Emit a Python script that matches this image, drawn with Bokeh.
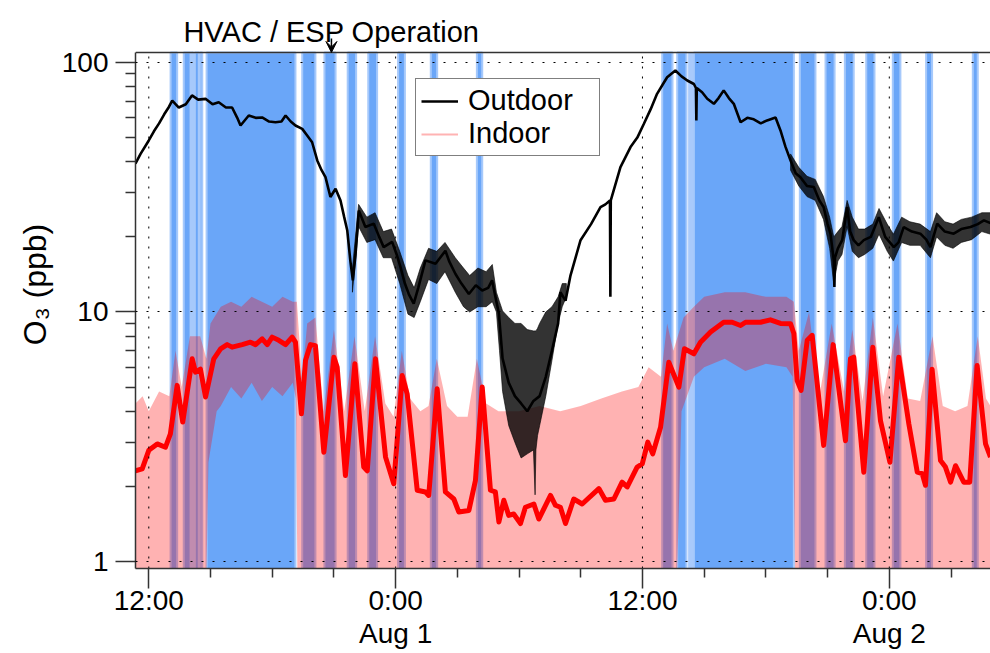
from bokeh.plotting import figure
from bokeh.models import (Range1d, FixedTicker, Arrow, VeeHead, Span, Legend, LegendItem,
                          LinearAxis)
from bokeh.core.properties import value
from bokeh.embed import file_html
from bokeh.resources import INLINE

# ---------------- data (time in hours since Jul 31 00:00) ----------------
hvac_start = [13.06, 13.70, 14.07, 14.24, 14.48, 14.81, 19.46, 20.54, 21.67, 22.67, 24.12, 25.71, 27.95,
              36.96, 37.69, 38.50, 43.65, 44.90, 45.84, 46.88, 48.17, 49.79, 52.06]
hvac_end = [13.38, 14.03, 14.16, 14.43, 14.60, 19.13, 20.10, 21.08, 22.08, 23.10, 24.45, 26.02, 28.21,
            37.46, 38.14, 43.36, 44.41, 45.34, 46.27, 47.28, 48.54, 50.08, 52.30]
hvac_part_start = [38.22]
hvac_part_end = [38.48]

out_t = [11.35, 11.6, 12.0, 12.25, 12.5, 12.75, 12.97, 13.14, 13.46, 13.8, 14.1, 14.4, 14.76, 15.1, 15.4,
         15.75, 16.05, 16.3, 16.46, 16.86, 17.2, 17.51, 17.85, 18.16, 18.45, 18.65, 18.9, 19.13, 19.46,
         19.7, 19.94, 20.19, 20.4, 20.59, 20.83, 21.08, 21.32, 21.5, 21.65, 21.8, 21.92, 22.05, 22.21,
         22.53, 22.94, 23.2, 23.42, 23.83, 24.05, 24.24, 24.45, 24.64, 24.88, 25.1, 25.45, 25.94, 26.42,
         26.6, 26.91, 27.2, 27.56, 27.9, 28.21, 28.5, 28.69, 28.9, 29.02, 29.2, 29.5, 29.8, 30.1, 30.4,
         30.7, 31.0, 31.3, 31.6, 31.9, 32.01, 32.26, 32.5, 32.99, 33.5, 33.96, 34.2, 34.42, 34.44, 34.46,
         34.93, 35.42, 35.75, 36.07, 36.4, 36.71, 37.0, 37.2, 37.6, 37.9, 38.18, 38.5, 38.6, 38.62,
         38.64, 38.9, 39.15, 39.47, 39.7, 39.95, 40.2, 40.44, 40.77, 41.1, 41.41, 41.75, 42.06, 42.47,
         42.71, 42.95, 43.2, 43.45, 43.68, 44.0, 44.33, 44.6, 44.81, 45.0, 45.14, 45.3, 45.33, 45.36,
         45.5, 45.71, 45.95, 46.1, 46.27, 46.5, 46.76, 47.1, 47.49, 47.8, 48.22, 48.45, 48.7, 49.1,
         49.51, 49.8, 50.0, 50.33, 50.7, 51.13, 51.5, 51.95, 52.3, 52.6, 52.92]
out_v = [39.3, 43, 48.7, 53, 57, 62, 66.2, 70.4, 66, 68, 73.8, 71, 71.5, 68, 69.3,
         66, 66, 60, 55.9, 61.3, 60, 60.2, 58, 57.6, 58, 61.3, 58, 55.9, 54.2,
         51, 47.9, 40.5, 37, 34.7, 28.9, 31.2, 28, 24, 21.2, 16, 13.4, 17, 25.5,
         21.9, 22.6, 20, 18.2, 19.1, 17, 15.1, 13, 11.8, 10.8, 12.5, 16.1, 15.6, 17.6,
         16, 14.2, 13, 11.8, 12.8, 12.2, 12.5, 13.4, 11, 9.86, 6.5, 5.2, 4.6, 4.3, 4.0,
         4.4, 4.6, 5.5, 7.0, 9.0, 12, 11.1, 14, 19.4, 22.5, 26.3, 27, 28, 11.5, 28,
         38.1, 45.8, 50, 56.8, 65, 74.9, 82, 87.3, 92.9, 88, 84.7, 82, 79, 58.6,
         79, 76, 71.6, 68.3, 72, 77.3, 72, 68.3, 57.6, 60, 59.2, 57, 58.6, 60.2,
         53.4, 46, 40.5, 36, 34.7, 32, 31.7, 28, 26.3, 22.5, 20.6, 16.1, 12.6, 16.5,
         18, 19.4, 26.3, 21, 19.4, 18.5, 19.4, 20, 24, 20, 18.2, 19, 21.9, 21,
         20.6, 19.5, 18.2, 22.6, 21, 20.6, 21.5, 21.9, 22.5, 23.3, 22.7]

# spread (min / max) of the noisy outdoor trace, night of Jul 31 -> Aug 1
out_sp1_t = [21.9, 22.2, 22.6, 23.0, 23.4, 23.8, 24.2, 24.6, 24.9, 25.2, 25.6, 26.0, 26.4, 26.9,
             27.3, 27.6, 28.0, 28.4, 28.7, 28.9, 29.05, 29.2, 29.5, 29.8, 30.1, 30.4, 30.7, 30.78,
             30.82, 30.9, 31.0, 31.3, 31.6, 31.9, 32.1, 32.3]
out_sp1_hi = [15, 27, 24, 25, 21, 21.5, 17.5, 14, 12.5, 15, 18, 17.5, 19, 16.5,
              15, 14, 15, 14.5, 15.5, 12, 11, 10.1, 9.5, 9.0, 9.0, 8.5, 8.4, 8.4,
              8.4, 8.6, 9.0, 10.0, 10.5, 11.5, 13, 13]
out_sp1_lo = [12, 22, 19, 19.5, 16.5, 16.5, 13, 9.8, 9.5, 11, 13.5, 13, 14.5, 12,
              10.5, 10, 10.5, 10.5, 11, 10, 7.0, 4.8, 3.5, 3.0, 2.6, 2.7, 2.8, 1.85,
              2.8, 3.2, 3.5, 4.6, 6.4, 9.0, 10.5, 11.5]
# spread of the outdoor trace, evening Aug 1 -> Aug 2
out_sp2_t = [43.2, 43.6, 44.0, 44.4, 44.8, 45.1, 45.3, 45.5, 45.7, 45.95, 46.2, 46.5, 46.8, 47.2,
             47.5, 47.9, 48.2, 48.6, 49.0, 49.5, 50.0, 50.3, 50.7, 51.1, 51.5, 52.0, 52.5, 52.92]
out_sp2_hi = [43, 38, 35, 34, 29, 24, 20, 21, 22, 28, 24, 21.5, 21.5, 22.5,
              26, 22.5, 20.5, 24, 23, 22.5, 21, 25, 23, 22.5, 23.5, 24, 25, 25]
out_sp2_lo = [37, 32, 29, 28, 23.5, 18, 13, 16, 17, 22, 17.5, 16.5, 17, 18,
              20.5, 17.5, 16, 19, 18.5, 18.5, 16.5, 20, 18.5, 18, 19, 19.5, 21, 20.5]

ind_t = [11.35, 11.68, 12.0, 12.41, 12.81, 13.05, 13.38, 13.65, 14.11, 14.27, 14.51, 14.76, 15.16, 15.49,
         15.81, 16.05, 16.54, 16.94, 17.19, 17.51, 17.76, 18.0, 18.32, 18.65, 18.97, 19.13, 19.42, 19.62,
         19.86, 20.1, 20.51, 21.0, 21.16, 21.56, 22.02, 22.45, 22.62, 23.02, 23.51, 23.91, 24.32, 24.56,
         25.05, 25.45, 25.61, 26.02, 26.42, 26.83, 27.07, 27.56, 27.88, 28.21, 28.61, 28.85, 29.02, 29.26,
         29.5, 29.74, 30.07, 30.31, 30.72, 30.96, 31.53, 31.77, 32.01, 32.26, 32.66, 33.07, 33.88, 34.2,
         34.61, 35.01, 35.26, 35.74, 35.99, 36.26, 36.5, 36.88, 37.28, 37.77, 38.04, 38.5, 38.82, 39.31,
         39.95, 40.36, 40.77, 41.01, 41.74, 42.22, 42.71, 43.2, 43.36, 43.52, 43.71, 44.01, 44.25, 44.81,
         45.27, 45.87, 46.11, 46.27, 46.76, 47.2, 47.57, 48.03, 48.46, 48.95, 49.36, 49.6, 49.76, 50.08,
         50.49, 50.73, 50.98, 51.22, 51.62, 51.91, 52.27, 52.68, 52.92]
ind_v = [2.31, 2.35, 2.79, 2.96, 2.87, 3.25, 5.08, 3.62, 6.49, 5.74, 5.9, 4.56, 6.49, 7.12,
         7.4, 7.23, 7.4, 7.57, 7.4, 7.81, 7.4, 7.93, 7.7, 7.4, 7.93, 7.57, 3.91, 6.4,
         7.4, 7.33, 2.74, 6.59, 6.0, 2.21, 6.2, 2.39, 2.31, 6.49, 2.62, 2.05, 5.56, 4.7,
         1.93, 1.9, 1.84, 4.92, 1.9, 1.78, 1.58, 1.6, 2.11, 5.0, 1.93, 1.9, 1.44, 1.76,
         1.53, 1.55, 1.42, 1.65, 1.70, 1.48, 1.84, 1.68, 1.65, 1.42, 1.78, 1.70, 1.96, 1.76,
         1.78, 2.08, 1.99, 2.39, 2.46, 3.01, 2.70, 3.45, 6.29, 5.0, 7.12, 6.8, 7.57, 8.31,
         9.1, 9.1, 8.83, 9.1, 9.1, 9.3, 9.0, 8.97, 8.2, 5.31, 4.85, 7.7, 8.06, 2.92,
         7.4, 3.05, 6.49, 6.59, 2.28, 7.23, 3.67, 2.50, 6.59, 3.56, 2.28, 2.25, 2.02, 5.9,
         2.54, 2.39, 2.08, 2.42, 2.08, 2.08, 6.1, 2.96, 2.62]

# spread of the raw (noisy) indoor trace
ind_hi_t = [11.35, 11.7, 12.0, 12.5, 13.0, 13.3, 13.6, 14.0, 14.5, 14.8, 15.0, 15.5, 16.0, 16.5, 17.0,
            17.5, 18.0, 18.5, 19.0, 19.2, 19.45, 19.7, 20.1, 20.5, 21.0, 21.5, 22.0, 22.5, 23.0, 23.5,
            23.9, 24.3, 24.7, 25.2, 25.6, 26.0, 26.5, 27.0, 27.5, 27.95, 28.4, 29.0, 30.0, 31.0, 32.0,
            33.0, 34.0, 35.0, 35.8, 36.3, 36.9, 37.2, 37.5, 38.0, 38.5, 39.0, 40.0, 41.0, 42.0, 43.0,
            43.36, 43.6, 44.1, 44.6, 45.2, 45.8, 46.2, 46.7, 47.2, 47.7, 48.4, 48.9, 49.5, 50.1, 50.6,
            51.2, 51.8, 52.3, 52.7, 52.92]
ind_hi_v = [4.3, 4.6, 4.0, 4.8, 4.6, 7.0, 5.0, 8.0, 8.0, 6.5, 9.0, 10.5, 11.0, 10.5, 11.5,
            11.0, 10.5, 11.5, 11.0, 11.0, 5.3, 9.0, 9.5, 4.0, 8.5, 4.0, 8.0, 4.0, 8.0, 4.3,
            3.8, 7.0, 4.5, 4.0, 4.2, 6.5, 4.2, 3.8, 3.8, 6.5, 4.3, 4.0, 4.0, 4.2, 4.0,
            4.2, 4.5, 4.8, 5.0, 6.0, 5.5, 9.0, 7.0, 9.5, 10.5, 11.5, 12.0, 12.0, 11.5, 11.5,
            11.0, 7.0, 10.0, 4.6, 9.0, 4.8, 8.5, 4.4, 9.5, 4.6, 9.0, 4.5, 4.4, 8.0, 4.2,
            4.0, 4.2, 8.0, 4.5, 4.2]
ind_lo_t = [11.35, 14.75, 14.9, 15.3, 15.5, 16.0, 16.5, 17.0, 17.5, 18.0, 18.5, 19.0, 19.15, 19.25,
            37.6, 37.9, 38.5, 39.0, 40.0, 41.0, 42.0, 43.0, 43.3, 43.45, 52.92]
ind_lo_v = [0.5, 0.5, 2.5, 4.0, 4.2, 5.0, 4.5, 5.2, 4.4, 5.0, 4.6, 5.2, 4.5, 0.5,
            0.5, 4.0, 5.5, 6.0, 6.5, 5.8, 6.2, 6.0, 5.5, 0.5, 0.5]

x_ticks = [12, 24, 36, 48]
x_tick_labels = ["12:00", "0:00", "12:00", "0:00"]
x_minor = [15, 18, 21, 27, 30, 33, 39, 42, 45, 51]
date_ticks = [24, 48]
date_labels = ["Aug 1", "Aug 2"]
y_ticks = [1, 10, 100]
y_tick_labels = ["1", "10", "100"]
y_minor = [2, 3, 4, 5, 6, 7, 8, 9, 20, 30, 40, 50, 60, 70, 80, 90]
annot_t = 20.88
annot_text = "HVAC / ESP Operation"

# ---------------- styling ----------------
FONT = "Liberation Sans"
BLUE = "#6aa6f8"
BLUE_EDGE = "#a6c9fb"
BLUE_LIGHT = "#a9cafb"
Y0, Y1 = 0.9374, 109.7      # plot box (bottom / top)
Y_CANVAS_TOP = 177.2        # value at the very top of the canvas (room for the annotation)

p = figure(width=990, height=653, x_range=Range1d(11.354, 52.92),
           y_range=Range1d(Y0, Y_CANVAS_TOP), y_axis_type="log",
           min_border_left=135, min_border_right=0, min_border_top=0, min_border_bottom=85,
           output_backend="svg", toolbar_location=None)
p.outline_line_color = None
p.background_fill_color = "white"
p.border_fill_color = "white"

# HVAC operation bands
p.quad(left=hvac_start, right=hvac_end, bottom=0.3, top=Y1, fill_color=BLUE,
       line_color=BLUE_EDGE, line_width=2)
p.quad(left=hvac_part_start, right=hvac_part_end, bottom=0.3, top=Y1, fill_color=BLUE_LIGHT,
       line_color=None)

# indoor raw spread
p.patch(ind_hi_t + ind_lo_t[::-1], ind_hi_v + ind_lo_v[::-1], fill_color="#ff0000",
        fill_alpha=0.3, line_color=None)

# outdoor
p.patches(xs=[out_sp1_t + out_sp1_t[::-1], out_sp2_t + out_sp2_t[::-1]],
          ys=[out_sp1_hi + out_sp1_lo[::-1], out_sp2_hi + out_sp2_lo[::-1]],
          fill_color="black", fill_alpha=0.8, line_color="black", line_alpha=0.6, line_width=1)
r_out = p.line(out_t, out_v, line_color="black", line_width=2.6)

# indoor smoothed
p.line(ind_t, ind_v, line_color="#ff0000", line_width=5, line_join="round")

# legend sample for the raw indoor trace (kept outside the visible x range)
r_in = p.line([0, 1], [5, 5], line_color="#ffb3b3", line_width=2)

# vertical dotted grid lines at the major time ticks (within the plot box only)
p.segment(x0=x_ticks, y0=[Y0] * len(x_ticks), x1=x_ticks, y1=[Y1] * len(x_ticks),
          line_color="black", line_width=1, line_dash="2 8", level="guide")
p.xgrid.visible = False
g = p.ygrid[0]
g.grid_line_color = "black"
g.grid_line_width = 1
g.grid_line_dash = "2 9"
g.level = "annotation"

# top frame line
p.add_layout(Span(location=Y1, dimension="width", line_color="#333333", line_width=1.5))

# axes
xa = p.xaxis[0]
xa.ticker = FixedTicker(ticks=x_ticks, minor_ticks=x_minor)
xa.major_label_overrides = {t: s for t, s in zip(x_ticks, x_tick_labels)}
ya = p.yaxis[0]
ya.ticker = FixedTicker(ticks=y_ticks, minor_ticks=y_minor)
ya.major_label_overrides = {t: s for t, s in zip(y_ticks, y_tick_labels)}
ya.bounds = (Y0, Y1)
for ax in (xa, ya):
    ax.axis_line_color = "#333333"
    ax.axis_line_width = 1.5
    ax.major_tick_line_color = "#333333"
    ax.minor_tick_line_color = "#333333"
    ax.major_tick_line_width = 1.5
    ax.minor_tick_line_width = 1.5
    ax.major_tick_in = 0
    ax.minor_tick_in = 0
    ax.major_tick_out = 20
    ax.minor_tick_out = 10
    ax.major_label_text_font = FONT
    ax.major_label_text_color = "black"
    ax.axis_label_text_font = FONT
    ax.axis_label_text_font_style = "normal"
    ax.axis_label_text_color = "black"
xa.minor_tick_out = 9
xa.major_label_standoff = -4
xa.major_label_text_font_size = "28px"
ya.major_label_text_font_size = "28px"
ya.major_label_standoff = 7
ya.axis_label = "O₃ (ppb)"
ya.axis_label_text_font_size = "32px"
ya.axis_label_standoff = 6

# second row of time labels: the dates
xa2 = LinearAxis(ticker=FixedTicker(ticks=date_ticks),
                 major_label_overrides={t: s for t, s in zip(date_ticks, date_labels)},
                 axis_line_color=None, major_tick_line_color=None, minor_tick_line_color=None,
                 major_tick_in=0, major_tick_out=0, minor_tick_in=0, minor_tick_out=0,
                 major_label_standoff=-1, major_label_text_font=FONT,
                 major_label_text_font_size="28px", major_label_text_color="black")
p.add_layout(xa2, "below")

# HVAC annotation above the plot box
p.text(x=[annot_t], y=[131.9], text=[annot_text], text_font=value(FONT),
       text_font_size="29px", text_align="center", text_baseline="alphabetic",
       text_color="black")
p.add_layout(Arrow(end=VeeHead(size=11, line_color="black", fill_color="black", line_width=1),
                   x_start=annot_t, y_start=124.8, x_end=annot_t, y_end=Y1,
                   line_color="black", line_width=1.5))

legend = Legend(items=[LegendItem(label="Outdoor", renderers=[r_out]),
                       LegendItem(label="Indoor", renderers=[r_in])],
                location=(280, 412), padding=5, spacing=0, margin=0,
                glyph_width=37, glyph_height=30, label_height=30, label_width=126,
                label_standoff=10, label_text_font=FONT, label_text_font_size="29px",
                label_text_color="black",
                border_line_color="black", border_line_width=1, background_fill_alpha=1)
p.add_layout(legend)

open("out.html", "w").write(file_html(p, INLINE))
